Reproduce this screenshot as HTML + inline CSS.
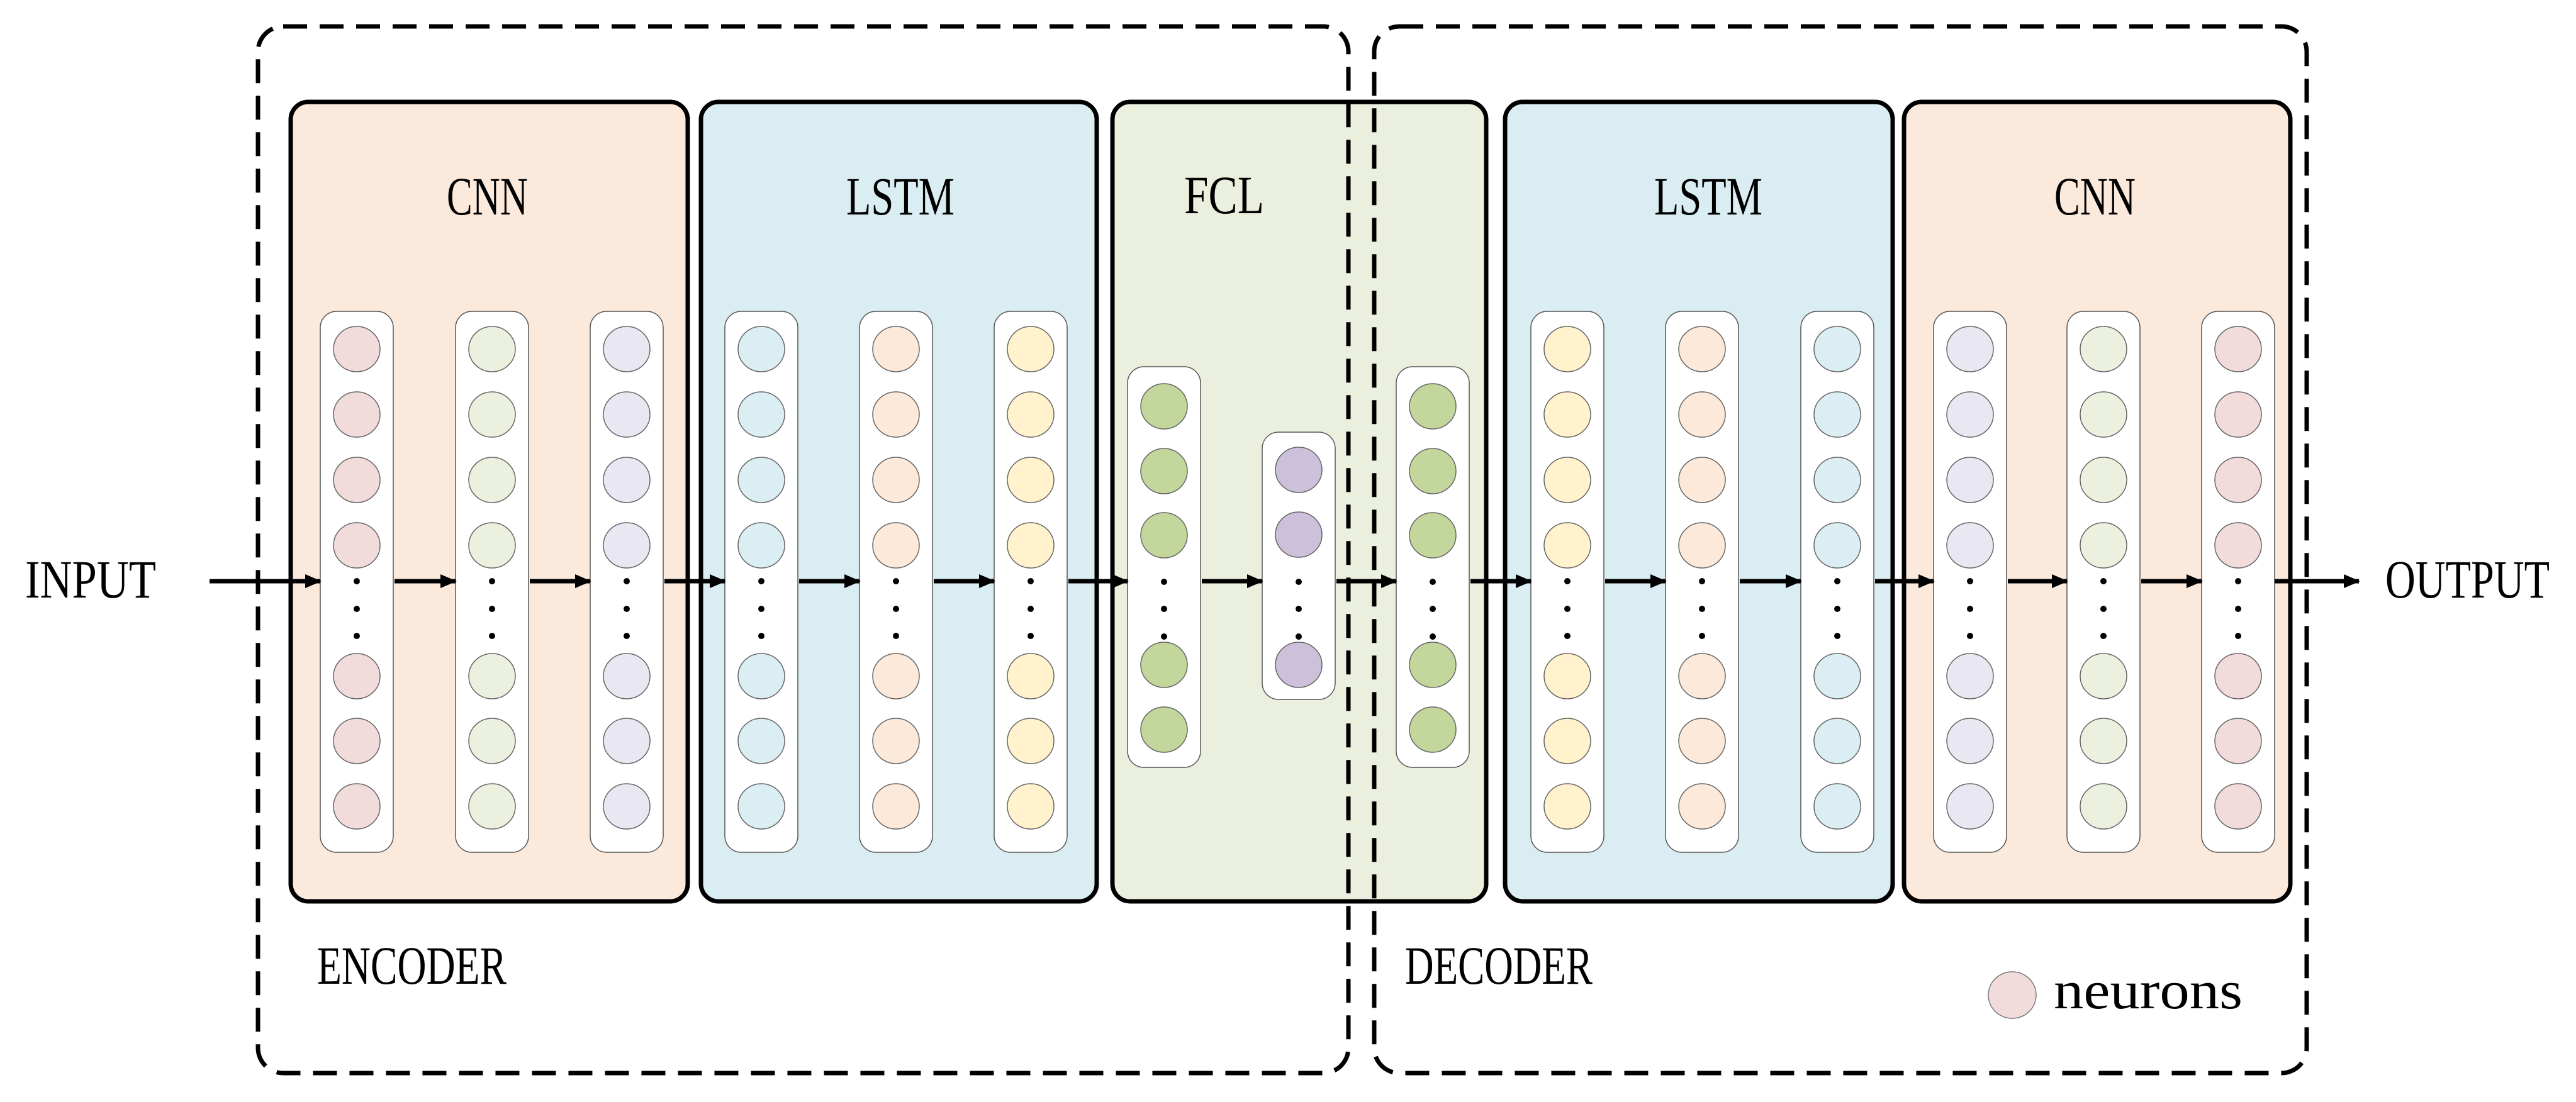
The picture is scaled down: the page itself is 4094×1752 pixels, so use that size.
<!DOCTYPE html>
<html><head><meta charset="utf-8"><style>html,body{margin:0;padding:0;background:#fff}svg{display:block}</style></head>
<body>
<svg id="s" width="4094" height="1752" viewBox="0 0 4094 1752" xmlns="http://www.w3.org/2000/svg" font-family="'Liberation Serif', serif">
<defs><marker id="ah" markerWidth="10" markerHeight="10" refX="9" refY="5" orient="auto" markerUnits="userSpaceOnUse" viewBox="0 0 10 10"><path d="M0,0 L10,5 L0,10 z" fill="#000"/></marker>
<marker id="a" markerWidth="26" markerHeight="26" refX="24" refY="13" orient="auto" markerUnits="userSpaceOnUse"><path d="M0,2 L26,13 L0,24 z" fill="#000"/></marker></defs>
<!-- layer boxes -->
<rect x="462" y="162" width="631" height="1271" rx="28" fill="#fbe9dc" stroke="#000" stroke-width="7"/>
<rect x="1114" y="162" width="629" height="1271" rx="28" fill="#daedf2" stroke="#000" stroke-width="7"/>
<rect x="1768" y="162" width="594" height="1271" rx="28" fill="#ebf0de" stroke="#000" stroke-width="7"/>
<rect x="2392" y="162" width="616" height="1271" rx="28" fill="#daedf2" stroke="#000" stroke-width="7"/>
<rect x="3026" y="162" width="614" height="1271" rx="28" fill="#fbe9dc" stroke="#000" stroke-width="7"/>
<g id="g"></g>
<!-- dashed boxes -->
<rect x="410" y="42" width="1733" height="1664" rx="40" fill="none" stroke="#000" stroke-width="7" stroke-dasharray="38 20"/>
<rect x="2184" y="42" width="1482" height="1664" rx="40" fill="none" stroke="#000" stroke-width="7" stroke-dasharray="38 20"/>
<!-- labels -->
<g font-size="86" fill="#000">
<text x="40" y="950" textLength="208" lengthAdjust="spacingAndGlyphs">INPUT</text>
<text x="3791" y="950" textLength="261" lengthAdjust="spacingAndGlyphs">OUTPUT</text>
<text x="710" y="341" textLength="129" lengthAdjust="spacingAndGlyphs">CNN</text>
<text x="1345" y="341" textLength="172" lengthAdjust="spacingAndGlyphs">LSTM</text>
<text x="1882" y="339" textLength="127" lengthAdjust="spacingAndGlyphs">FCL</text>
<text x="2629" y="341" textLength="172" lengthAdjust="spacingAndGlyphs">LSTM</text>
<text x="3265" y="341" textLength="129" lengthAdjust="spacingAndGlyphs">CNN</text>
<text x="504" y="1564" textLength="301" lengthAdjust="spacingAndGlyphs">ENCODER</text>
<text x="2233" y="1564" textLength="298" lengthAdjust="spacingAndGlyphs">DECODER</text>
<text x="3264" y="1603" textLength="300" lengthAdjust="spacingAndGlyphs">neurons</text>
</g>
<ellipse cx="3198" cy="1582" rx="38" ry="37" fill="#f2dcdb" stroke="#777" stroke-width="1.5"/>
</svg>
<script>
var g=document.getElementById('g'),NS='http://www.w3.org/2000/svg';
function el(t,a){var e=document.createElementNS(NS,t);for(var k in a)e.setAttribute(k,a[k]);g.appendChild(e);return e;}
var A={top:495,h:860,n:[555,659,763,867,1075,1178,1282],d:[924,968,1011]};
var B={top:583,h:637,n:[646,749,851,1057,1160],d:[925,968,1012]};
var C={top:687,h:425,n:[747,850,1057],d:[925,968,1012]};
var cols=[[509,A,'#f2dcdb'],[724,A,'#ebf1de'],[938,A,'#e9e7f1'],[1152,A,'#daeef3'],[1366,A,'#fde9d9'],[1580,A,'#fff2cc'],
[1792,B,'#c3d69b'],[2006,C,'#ccc0da'],[2219,B,'#c3d69b'],
[2433,A,'#fff2cc'],[2647,A,'#fde9d9'],[2862,A,'#daeef3'],[3073,A,'#e9e7f1'],[3285,A,'#ebf1de'],[3499,A,'#f2dcdb']];
var W=116;
cols.forEach(function(c){var x=c[0],t=c[1];
 el('rect',{x:x,y:t.top,width:W,height:t.h,rx:26,fill:'#fff',stroke:'#555','stroke-width':1.5});
 t.n.forEach(function(y){el('ellipse',{cx:x+W/2,cy:y,rx:37,ry:36,fill:c[2],stroke:'#666','stroke-width':1.5});});
 t.d.forEach(function(y){el('circle',{cx:x+W/2,cy:y,r:5,fill:'#000'});});
});
function arr(x1,x2){el('line',{x1:x1,y1:924,x2:x2,y2:924,stroke:'#000','stroke-width':7,'marker-end':'url(#a)'});}
arr(333,509);
for(var i=0;i<cols.length-1;i++)arr(cols[i][0]+W+2,cols[i+1][0]);
arr(3499+W,3749);
</script>
</body></html>
